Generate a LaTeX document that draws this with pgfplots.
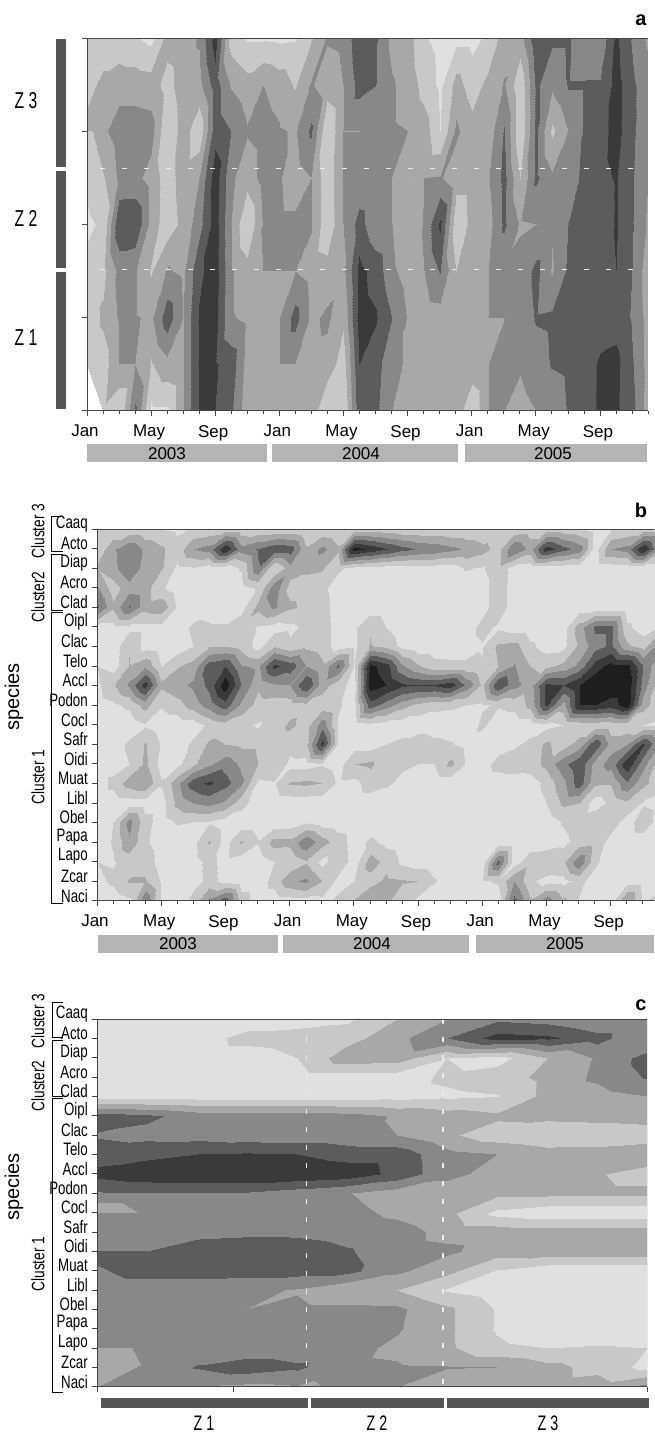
\documentclass[border=0pt]{standalone}
\usepackage{pgfplots}
\usepackage{fontspec}
\setmainfont{Liberation Sans}
\pgfplotsset{compat=1.18}
\definecolor{ln}{RGB}{70,70,70}
\definecolor{bar}{RGB}{85,85,85}
\definecolor{yb}{RGB}{180,180,180}
\newcommand\N[1]{\scalebox{.74}[1]{\fontsize{18}{20}\selectfont #1}}
\newcommand\Zl[2]{\scalebox{.68}[1]{\fontsize{#1}{#1}\selectfont #2}}
\newcommand\Cl[1]{\scalebox{.76}[1]{\fontsize{18}{20}\selectfont #1}}
\pgfplotsset{
 panel/.style={scale only axis,anchor=south west,
  colormap={gr}{rgb255(0)=(224,224,224) rgb255(1)=(200,200,200) rgb255(2)=(168,168,168) rgb255(3)=(136,136,136) rgb255(4)=(92,92,92) rgb255(5)=(58,58,58) rgb255(6)=(30,30,30)},
  point meta min=0,point meta max=7,
  axis x line*=bottom,axis y line*=left,
  axis line style={-,color=ln,line width=.9pt},
  every tick/.style={color=ln,line width=.7pt},
  major tick length=5pt,minor tick length=3pt,
  tick align=outside,
  x tick label style={font=\fontsize{17}{20}\selectfont,xshift=-2pt,yshift=-6pt},
  enlargelimits=false,axis on top},
 cf/.style={contour filled={number=7},point meta=\thisrowno{0},shader=interp},
}
\begin{document}
\begin{tikzpicture}
\path[use as bounding box] (0,0) rectangle (654pt,1433pt);
% ---------- panel a
\begin{axis}[panel,at={(87pt,1022.3pt)},width=561pt,height=372.4pt,
 xmin=0,xmax=35,ymin=0,ymax=8,
 xtick={0,4,8,12,16,20,24,28,32},minor xtick={1,2,3,5,6,7,9,10,11,13,14,15,17,18,19,21,22,23,25,26,27,29,30,31,33,34,35},
 xticklabels={Jan,May,Sep,Jan,May,Sep,Jan,May,Sep},
 ytick={0,2,4,6,8},yticklabels={,,,,}]
\addplot[cf,mesh/rows=9,mesh/cols=36] table[row sep=\\,header=false,x expr={mod(\coordindex,36)},y expr={8-floor(\coordindex/36)}]{
1.1\\1.3\\1.3\\1.1\\.7\\2.4\\2.6\\3.1\\5.5\\1.5\\.9\\.9\\.8\\.9\\1.9\\3.1\\3.2\\4.8\\4.1\\2.7\\2.4\\1.1\\.7\\.7\\.7\\1.2\\2.5\\2.6\\4.8\\4.2\\4.2\\3.1\\3.2\\5.2\\3.9\\2.8\\
1.6\\2.3\\2.6\\2.6\\2.5\\1.6\\2.6\\2.7\\4.5\\2.9\\2.4\\3\\2.6\\1.9\\3.1\\2.5\\3\\4.4\\4\\3.1\\2.6\\1.6\\.8\\2.4\\1.5\\2.3\\3.1\\1.2\\4.2\\3.2\\4.1\\4.1\\4.1\\5.4\\4.2\\3.4\\
2.4\\2.8\\3.5\\3.5\\3.4\\1.1\\2.5\\1.2\\4.6\\4\\3.1\\3.4\\3.1\\2.9\\4.2\\1\\3\\3\\3.1\\3.1\\3\\2.5\\1\\3.2\\2.4\\2.4\\4.1\\1.1\\4.2\\1.8\\3\\4.1\\4.6\\5.4\\4.2\\3.2\\
1.6\\1.9\\3.2\\3.3\\2.6\\1.5\\2.5\\3\\5.6\\3.2\\2.4\\3.4\\3.1\\2.5\\3\\1.3\\3.1\\3.2\\3.1\\3\\2\\3\\3.1\\2.4\\2.4\\2.9\\4.3\\2\\4.2\\3.2\\3.6\\4.2\\4.7\\5.1\\4.1\\3\\
.8\\1.2\\4.9\\4.9\\2.6\\1.4\\2.3\\3.6\\5.5\\3\\1\\3.1\\3.2\\3.2\\3.1\\1.2\\3\\4.4\\3.2\\3\\2.1\\3.1\\5.2\\1.3\\2.3\\2.6\\4.2\\2.9\\3\\3.1\\4\\4.2\\4.3\\5.1\\4.1\\2.8\\
1.3\\1.7\\3.3\\3.1\\1.9\\3.1\\2.8\\4.8\\5.5\\3.1\\2.4\\3\\3\\3\\2.6\\2.4\\2.7\\5.3\\4.6\\3.2\\2.5\\3\\4.1\\2\\2.6\\3\\3.1\\3.3\\4.3\\2.9\\4.2\\4.2\\4.5\\5\\4\\2.4\\
1.4\\2.2\\3.1\\3.1\\2.8\\4.6\\3\\5.1\\5.4\\3.1\\2.8\\3\\3\\4.4\\2.8\\3.2\\2.2\\5.4\\5.1\\4\\2.9\\2.4\\2.5\\2.5\\2.8\\3\\3\\3.3\\4.1\\4.2\\4.2\\5\\4.3\\4.6\\3.9\\2.6\\
1.2\\1.5\\3\\3\\1.9\\2.7\\3\\5.1\\5.1\\4.6\\2.6\\3\\3\\3\\2.7\\2.6\\1.5\\5\\4.4\\3.2\\2.9\\2.5\\2.5\\2.5\\2.6\\3\\3.1\\3.1\\3.5\\4.1\\4.3\\4.4\\5.2\\5.3\\4.1\\2.6\\
1.4\\1.8\\1\\4.2\\.8\\.8\\3\\5.1\\5\\4.2\\2.4\\3\\3\\3\\2.6\\1\\1\\4.6\\4.2\\3\\2.6\\2.5\\2.5\\2.5\\1.2\\3\\3\\2.7\\3\\3.1\\4.1\\4.4\\5.2\\5.2\\4.3\\2.5\\
};
\draw[white!92!black,line width=1.1pt,dash pattern=on 5pt off 17pt] (axis cs:.83,5.21)--(axis cs:34.1,5.21);
\draw[white!92!black,line width=1.1pt,dash pattern=on 5pt off 17pt] (axis cs:.83,3.04)--(axis cs:34.1,3.04);
\draw[ln,line width=.9pt] (rel axis cs:0,1)--(rel axis cs:1,1);
\end{axis}
% ---------- panel b
\begin{axis}[panel,at={(97pt,532.3pt)},width=557pt,height=371.7pt,
 xmin=0,xmax=34.7,ymin=0,ymax=19,
 xtick={0,4,8,12,16,20,24,28,32},minor xtick={1,2,3,5,6,7,9,10,11,13,14,15,17,18,19,21,22,23,25,26,27,29,30,31,33,34},
 xticklabels={Jan,May,Sep,Jan,May,Sep,Jan,May,Sep},
 ytick={0,...,19},
 yticklabels={\N{Naci},\N{Zcar},\N{Lapo},\N{Papa},\N{Obel},\N{Libl},\N{Muat},\N{Oidi},\N{Safr},\N{Cocl},\N{Podon},\N{Accl},\N{Telo},\N{Clac},\N{Oipl},\N{Clad},\N{Acro},\N{Diap},\N{Acto},\N{Caaq}},
 y tick label style={yshift=5pt,xshift=-3pt,inner sep=1pt}]
\addplot[cf,mesh/rows=20,mesh/cols=36] table[row sep=\\,header=false,x expr={mod(\coordindex,36)},y expr={19-floor(\coordindex/36)}]{
1\\1.2\\1.2\\1.2\\1\\.8\\1.1\\1.3\\1.5\\1.3\\1.2\\1.2\\1.3\\1\\1.2\\1\\1.5\\1.5\\1.3\\1.2\\1.2\\1.1\\1.1\\1.1\\1\\1.1\\1.3\\1.4\\1.5\\1.4\\1.2\\.6\\.9\\1.2\\1.4\\1.4\\
1.2\\2.8\\3.9\\2.8\\2.2\\1.4\\3\\3.4\\5.9\\3.4\\4.1\\4.8\\4.6\\2.2\\3.3\\2.2\\6.4\\5.8\\5.1\\4.4\\3.9\\3.7\\3.3\\2.9\\2.4\\1.6\\4\\2.6\\5.6\\4.4\\3.6\\.6\\3\\3.4\\6\\3\\
2.2\\2.7\\3.9\\2.5\\2.1\\.8\\.9\\.5\\.5\\1.1\\3.9\\1\\2.6\\2.2\\2.1\\1.2\\.7\\.6\\.5\\.5\\.5\\.5\\.5\\1.1\\.9\\1.7\\.5\\.4\\.4\\.4\\.4\\.4\\.4\\.4\\.4\\.4\\
2.1\\1.5\\2.6\\2.4\\1.2\\.4\\.4\\.4\\.4\\.6\\1.1\\3.7\\1.6\\1.6\\1.3\\.4\\.4\\.4\\.4\\.4\\.4\\.4\\.4\\.4\\.5\\1.7\\.4\\.4\\.4\\.4\\.4\\.4\\.4\\.4\\.4\\.4\\
4.2\\2.2\\4.1\\2.4\\2.7\\.9\\.4\\.7\\.5\\.6\\2.3\\3.2\\2.2\\1.7\\1.5\\.4\\.4\\.4\\.4\\.4\\.4\\.4\\.4\\.4\\.5\\1.7\\.4\\.4\\.4\\.4\\.4\\.4\\.4\\.4\\.4\\.4\\
.7\\.7\\.7\\.7\\.7\\.5\\1.2\\1.1\\1.1\\1.7\\.9\\.6\\.8\\1.2\\1.6\\.5\\.8\\1.9\\1\\.4\\.4\\.4\\.4\\.4\\1.4\\.8\\.5\\.4\\.4\\.5\\2.5\\4.2\\4.2\\1.2\\.5\\1\\
.4\\.4\\1.9\\.6\\.4\\.4\\1\\1.9\\2\\1.6\\.6\\1.9\\1.2\\1.8\\1.6\\.5\\.8\\2.1\\1.7\\.7\\.4\\.4\\.4\\.4\\.9\\2.2\\2.4\\1.2\\.6\\.7\\2.2\\3.6\\4.2\\2.2\\1.6\\3.6\\
.4\\.5\\2.1\\2.8\\1\\1.9\\2.4\\4.6\\5\\3.1\\2.8\\5.3\\4.6\\3\\2.2\\4.2\\1\\6.3\\5.5\\3.2\\2.1\\1.4\\1.3\\1.3\\1.1\\2\\3.1\\2\\1.7\\2.3\\3.3\\5.5\\6.4\\6.4\\4\\2\\
1\\1.9\\3.2\\5.5\\2.2\\2.7\\3.2\\4.3\\6.7\\4\\2.2\\2.9\\3\\5\\2.5\\1.4\\.6\\6.6\\6\\5.2\\5\\5.1\\5.6\\3.8\\1.8\\5\\3.4\\2.5\\5.2\\5\\6\\6.8\\6.8\\6.8\\3.6\\1.4\\
.5\\.8\\1.2\\2.4\\1.1\\1.6\\2.5\\3.5\\4.6\\2.8\\1.6\\1.4\\1.5\\1.7\\1.4\\1.1\\.7\\4.6\\3.5\\2.4\\1.7\\1.3\\1.2\\1\\.9\\1.1\\1.3\\2.3\\5.2\\2.6\\6\\6\\5.5\\6.6\\2.5\\1.3\\
.4\\.4\\.4\\.9\\.4\\.4\\.5\\1.2\\1.6\\1.2\\.9\\1.5\\2.2\\1.6\\3.6\\.9\\.4\\.7\\.5\\.4\\.4\\.4\\.4\\.4\\1.2\\.4\\.4\\.4\\.7\\1\\1.3\\1.4\\1.3\\1.2\\1\\.9\\
.4\\.5\\1.2\\2.1\\.9\\.5\\1.2\\2.2\\2\\1.8\\1.8\\1.6\\1.4\\1.8\\5.4\\.9\\.5\\.5\\1\\1.3\\1.7\\1.3\\1.1\\.7\\.4\\.5\\.8\\1.3\\2.2\\1.5\\2.4\\4.8\\2.6\\3\\5.2\\3\\
.4\\.5\\1\\2.2\\.6\\.7\\1.8\\2.8\\3.6\\2.8\\2\\2\\.7\\.6\\.9\\.5\\2\\2.2\\1.4\\1.2\\1\\1\\2.3\\.9\\.5\\1.4\\1.6\\1.5\\2.3\\3.7\\4.8\\2.6\\3.4\\5.8\\3.4\\1.5\\
.4\\1.3\\2.5\\2.9\\1.1\\2.7\\4.6\\5.2\\4.4\\3.2\\.8\\.9\\2.1\\2.2\\2\\.8\\.7\\1.5\\1.2\\.7\\.4\\.4\\.4\\.4\\.4\\.4\\.4\\.5\\1.3\\2.7\\4.6\\2.2\\2.1\\3.9\\2.3\\1.4\\
.4\\.4\\.5\\.5\\.5\\2.3\\3\\3.3\\2.8\\1.4\\.4\\.4\\.4\\.4\\.4\\.4\\.4\\.4\\.4\\.4\\.4\\.4\\.4\\.4\\.4\\.4\\.4\\.4\\1\\2.2\\2\\.4\\1.3\\1.8\\.9\\.6\\
.4\\1\\3.4\\1.4\\.5\\1.1\\1\\.9\\.5\\.4\\.4\\.4\\.4\\.9\\.5\\.4\\.4\\.4\\.4\\.4\\.4\\.4\\.4\\.4\\.4\\.4\\.4\\.4\\.4\\1.1\\1.6\\2\\1.5\\.5\\1.7\\.5\\
.4\\1.1\\2.8\\1.2\\.4\\.4\\.7\\2.1\\.6\\2.1\\1.1\\2.4\\2.3\\3.8\\2.4\\1.6\\.5\\1.2\\.7\\.5\\.4\\.4\\.4\\.4\\.4\\.4\\.4\\.4\\.4\\.7\\1.5\\1.6\\.6\\.4\\.4\\.4\\
.4\\.9\\1.4\\1.7\\.5\\.4\\.6\\1.3\\.7\\.4\\.4\\1\\1.2\\1.9\\.7\\1.7\\.5\\2.5\\1.7\\.8\\.5\\.4\\.4\\.4\\.4\\4.4\\.5\\1.7\\2\\1.8\\3.8\\1.2\\.4\\.7\\.5\\.4\\
1\\1.2\\2.1\\2.1\\.9\\.4\\.6\\1.3\\.7\\.4\\.4\\1.4\\2.8\\3.2\\2\\.7\\1\\1.6\\2.2\\2.1\\2\\1.1\\.4\\.4\\.9\\1.1\\3\\1.2\\.6\\.7\\1.3\\.5\\.4\\.6\\.6\\.4\\
.4\\.4\\.8\\3.9\\.8\\.4\\1.4\\3.4\\4.8\\1.6\\.4\\.4\\.5\\.6\\.7\\1.2\\2.1\\3\\2.2\\1.4\\.7\\.4\\.4\\.4\\.4\\.6\\4.4\\2.2\\3.6\\2.2\\.9\\.6\\.6\\3.2\\.8\\1.6\\
};
\draw[ln,line width=.9pt] (rel axis cs:0,1)--(rel axis cs:1,1);
\end{axis}
% ---------- panel c
\begin{axis}[panel,at={(97pt,46.3pt)},width=550pt,height=367.7pt,
 xmin=0,xmax=11,ymin=0,ymax=19,
 xtick={0,2.73,11},xticklabels={,,},
 ytick={0,...,19},
 yticklabels={\N{Naci},\N{Zcar},\N{Lapo},\N{Papa},\N{Obel},\N{Libl},\N{Muat},\N{Oidi},\N{Safr},\N{Cocl},\N{Podon},\N{Accl},\N{Telo},\N{Clac},\N{Oipl},\N{Clad},\N{Acro},\N{Diap},\N{Acto},\N{Caaq}},
 y tick label style={yshift=5pt,xshift=-3pt,inner sep=1pt}]
\addplot[cf,mesh/rows=20,mesh/cols=12] table[row sep=\\,header=false,x expr={mod(\coordindex,12)},y expr={19-floor(\coordindex/12)}]{
.5\\.5\\.5\\.5\\.5\\.8\\2\\3\\3.8\\3.6\\3\\3\\
.5\\.5\\.6\\1.3\\1.5\\1.6\\2.7\\4\\5.4\\5.2\\4.4\\3\\
.5\\.5\\.5\\.5\\1\\2.6\\2.5\\1\\.6\\2\\3.1\\4.4\\
.5\\.5\\.5\\.5\\.5\\.5\\.5\\1.2\\1.5\\2.3\\3.2\\4.1\\
.5\\.5\\.5\\.5\\.5\\.5\\.6\\.8\\.95\\2.3\\2.6\\3\\
4.6\\4.2\\3.6\\3.6\\3.6\\3.4\\2.9\\2.5\\2.2\\2.3\\2.4\\2.5\\
3.9\\3.7\\3.6\\3.4\\3.3\\3.3\\3\\2.2\\1.4\\1.1\\1.2\\1.4\\
4.5\\4.7\\5\\5.1\\5\\4.6\\4.6\\3.3\\3\\2.5\\2.5\\2.8\\
5.3\\5.7\\5.9\\5.9\\5.8\\5.6\\4.7\\3.3\\2.6\\2.4\\2.1\\1.5\\
3.9\\4\\4\\3.9\\3.5\\3.05\\2.5\\2.4\\2.3\\2.3\\2.3\\2.3\\
2\\3.2\\3.3\\3.3\\3.3\\3.3\\2.8\\2.3\\.7\\.3\\.3\\.3\\
3.4\\3.5\\3.7\\3.8\\3.8\\3.6\\3.4\\2.7\\2.6\\2.6\\2.6\\2.6\\
3.7\\4\\4.5\\4.6\\4.5\\4.1\\3.4\\3.2\\2.5\\2.6\\2.6\\2.6\\
4.4\\4.5\\4.5\\4.4\\4.4\\4.3\\3.2\\2.3\\.9\\.3\\.3\\.3\\
3.3\\3.3\\3.3\\3.3\\2.9\\2.1\\2\\.9\\.4\\.3\\.3\\.3\\
3.2\\3.3\\3.05\\3\\3.3\\3.3\\3.2\\2.2\\.9\\.4\\.4\\.4\\
3.3\\3.3\\3.3\\3.3\\3.3\\3.3\\3.1\\2.2\\.9\\.4\\.4\\.4\\
3.3\\3.3\\3.3\\3.3\\3.3\\3.3\\2.8\\2.2\\1.2\\1\\1.1\\1\\
2.3\\3.1\\4.1\\4.6\\4.2\\3.2\\3.1\\3.05\\3\\2.3\\1.7\\.7\\
3\\3.1\\2.9\\2.7\\2.9\\3.1\\3\\2.4\\2.3\\2.3\\2.5\\3.4\\
};
\draw[white!92!black,line width=1.1pt,dash pattern=on 5pt off 13pt] (axis cs:4.19,19)--(axis cs:4.19,0);
\draw[white!92!black,line width=1.1pt,dash pattern=on 5pt off 13pt] (axis cs:6.92,19)--(axis cs:6.92,0);
\draw[ln,line width=.9pt] (rel axis cs:0,1)--(rel axis cs:1,1)--(rel axis cs:1,0);
\end{axis}
% ---------- annotation a
\fill[bar] (56pt,1394pt) rectangle (66pt,1266pt);
\fill[bar] (56pt,1262pt) rectangle (66pt,1165pt);
\fill[bar] (56pt,1161pt) rectangle (66pt,1024pt);
\node at (26pt,1332pt) {\Zl{23}{Z 3}};
\node at (26pt,1215pt) {\Zl{23}{Z 2}};
\node at (26pt,1095pt) {\Zl{23}{Z 1}};
\node[font=\fontsize{20}{22}\selectfont\bfseries] at (641pt,1413pt) {a};
\foreach \a/\b/\c/\t in {87/267/167/2003,272/458/361/2004,465/647/553/2005}{
 \fill[yb] (\a pt,970.5pt) rectangle (\b pt,989pt);
 \node[font=\fontsize{17}{20}\selectfont] at (\c pt,979.5pt) {\t};}
% ---------- annotation b
\node[font=\fontsize{20}{22}\selectfont\bfseries] at (641pt,923pt) {b};
\foreach \a/\b/\c/\t in {97.5/278/178/2003,283/469/372/2004,476/654/565/2005}{
 \fill[yb] (\a pt,480pt) rectangle (\b pt,498pt);
 \node[font=\fontsize{17}{20}\selectfont] at (\c pt,489pt) {\t};}
\draw[black,line width=.9pt] (62.5pt,917pt)--(51pt,917pt)--(51pt,882pt)--(62.5pt,882pt);
\draw[black,line width=.9pt] (62.5pt,879pt)--(51pt,879pt)--(51pt,823pt)--(62.5pt,823pt);
\draw[black,line width=.9pt] (62.5pt,820.5pt)--(51pt,820.5pt)--(51pt,530pt)--(62.5pt,530pt);
\node[rotate=90] at (38pt,902pt) {\Cl{Cluster 3}};
\node[rotate=90] at (38pt,836pt) {\Cl{Cluster2}};
\node[rotate=90] at (38pt,656pt) {\Cl{Cluster 1}};
\node[rotate=90,font=\fontsize{20}{22}\selectfont] at (14pt,736pt) {species};
% ---------- annotation c
\node[font=\fontsize{20}{22}\selectfont\bfseries] at (641pt,428pt) {c};
\fill[bar] (101pt,25pt) rectangle (307.5pt,35pt);
\fill[bar] (311pt,25pt) rectangle (444pt,35pt);
\fill[bar] (447pt,25pt) rectangle (649pt,35pt);
\node at (204pt,10pt) {\Zl{21}{Z 1}};
\node at (377pt,10pt) {\Zl{21}{Z 2}};
\node at (548pt,10pt) {\Zl{21}{Z 3}};
\draw[black,line width=.9pt] (62.5pt,431pt)--(52pt,431pt)--(52pt,396pt)--(62.5pt,396pt);
\draw[black,line width=.9pt] (62.5pt,393pt)--(52pt,393pt)--(52pt,337pt)--(62.5pt,337pt);
\draw[black,line width=.9pt] (62.5pt,334.5pt)--(52pt,334.5pt)--(52pt,41pt)--(62.5pt,41pt);
\node[rotate=90] at (38pt,412pt) {\Cl{Cluster 3}};
\node[rotate=90] at (38pt,347pt) {\Cl{Cluster2}};
\node[rotate=90] at (38pt,169pt) {\Cl{Cluster 1}};
\node[rotate=90,font=\fontsize{20}{22}\selectfont] at (14pt,246pt) {species};
\end{tikzpicture}
\end{document}
